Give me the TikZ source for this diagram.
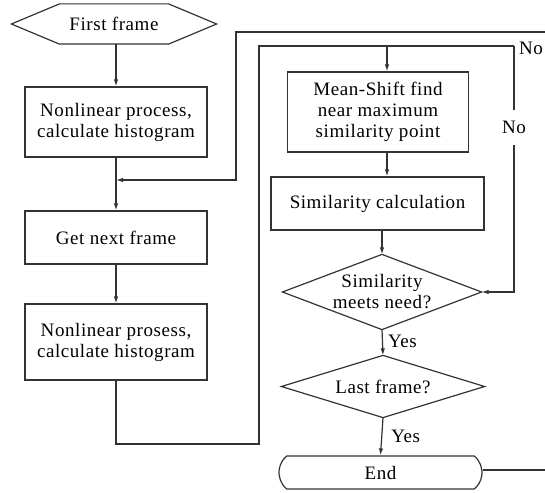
\documentclass[tikz,border=0pt]{standalone}
\usepackage{fontspec}
\setmainfont{Liberation Serif}[LetterSpace=3]
\usetikzlibrary{arrows.meta,shapes.misc,calc}
\definecolor{ln}{HTML}{333333}
\tikzset{
  base/.style={line width=1.2pt,draw=ln,text=black,font=\fontsize{19}{21}\selectfont,align=center,inner sep=0pt},
  box/.style={base,rectangle,draw},
  hidden/.style={base,rectangle,draw=none},
  endbox/.style={base,rounded rectangle,rounded rectangle arc length=100,draw},
  arr/.style={line width=1.2pt,draw=ln,-{Latex[length=7pt,width=4.5pt]}},
  ln/.style={line width=1.2pt,draw=ln},
  lbl/.style={font=\fontsize{19}{21}\selectfont,inner sep=0pt,text=black}
}
\begin{document}
\begin{tikzpicture}[x=1pt,y=-1pt]
\useasboundingbox (0,0) rectangle (545,492);
% nodes
\node[hidden,minimum width=204pt,minimum height=39pt] (first) at (114,24) {First frame};
\draw[ln] (first.west) -- ([xshift=48pt]first.north west) -- ([xshift=-48pt]first.north east) -- (first.east) -- ([xshift=-48pt]first.south east) -- ([xshift=48pt]first.south west) -- cycle;
\node[box,minimum width=182pt,minimum height=70pt] (b1) at (116,122) {Nonlinear process,\\calculate histogram};
\node[box,minimum width=182pt,minimum height=53pt] (b2) at (116,237.5) {Get next frame};
\node[box,minimum width=182pt,minimum height=76pt] (b3) at (116,342) {Nonlinear prosess,\\calculate histogram};
\node[box,minimum width=181pt,minimum height=80pt] (ms) at (378,112) {Mean-Shift find\\near maximum\\similarity point};
\node[box,minimum width=213pt,minimum height=53pt] (sc) at (377.5,203.5) {Similarity calculation};
\node[hidden,minimum width=198pt,minimum height=74pt] (d1) at (382,292) {Similarity\\meets need?};
\draw[ln] (d1.west) -- (d1.north) -- (d1.east) -- (d1.south) -- cycle;
\node[hidden,minimum width=202pt,minimum height=61pt] (d2) at (383,386.5) {Last frame?};
\draw[ln] (d2.west) -- (d2.north) -- (d2.east) -- (d2.south) -- cycle;
\node[endbox,minimum width=203pt,minimum height=33pt] (end) at (380.5,472.5) {End};
% coordinates
\coordinate (outerR) at (545,32);
\coordinate (outerL) at (236,32);
\coordinate (merge) at (116,180);
\coordinate (innerL) at (259,46);
\coordinate (innerR) at (514,46);
\coordinate (topc) at (387,46);
\coordinate (endR) at (545,470);
% connectors
\draw[arr] (first.south -| b1.north) -- (b1.north);
\draw[ln] (b1.south) -- (merge);
\draw[arr] (merge) -- (b2.north);
\draw[arr] (outerR) -- (outerL) -- (outerL |- merge) -- (merge);
\draw[arr] (b2.south) -- (b3.north);
\draw[ln] (b3.south) -- (b3.south |- 0,444) -- (innerL |- 0,444) -- (innerL) -- (innerR);
\draw[arr] (topc) -- (topc |- ms.north);
\draw[arr] (topc |- ms.south) -- (topc |- sc.north);
\draw[arr] (d1.north |- sc.south) -- (d1.north);
\draw[arr] (d1.south) -- (d2.north) node[lbl,pos=0.45,anchor=west,xshift=5pt] (y1) {Yes};
\draw[arr] (d2.south) -- (end.north) node[lbl,pos=0.5,anchor=west,xshift=9pt] (y2) {Yes};
\draw[arr] (innerR) -- (innerR |- d1.east) node[lbl,pos=0.33,fill=white,minimum height=35pt] (no2) {No} -- (d1.east);
\node[lbl,anchor=west] (no1) at ([xshift=5pt,yshift=-2pt]innerR) {No};
\draw[ln] (end.east |- endR) -- (endR);
\end{tikzpicture}
\end{document}
